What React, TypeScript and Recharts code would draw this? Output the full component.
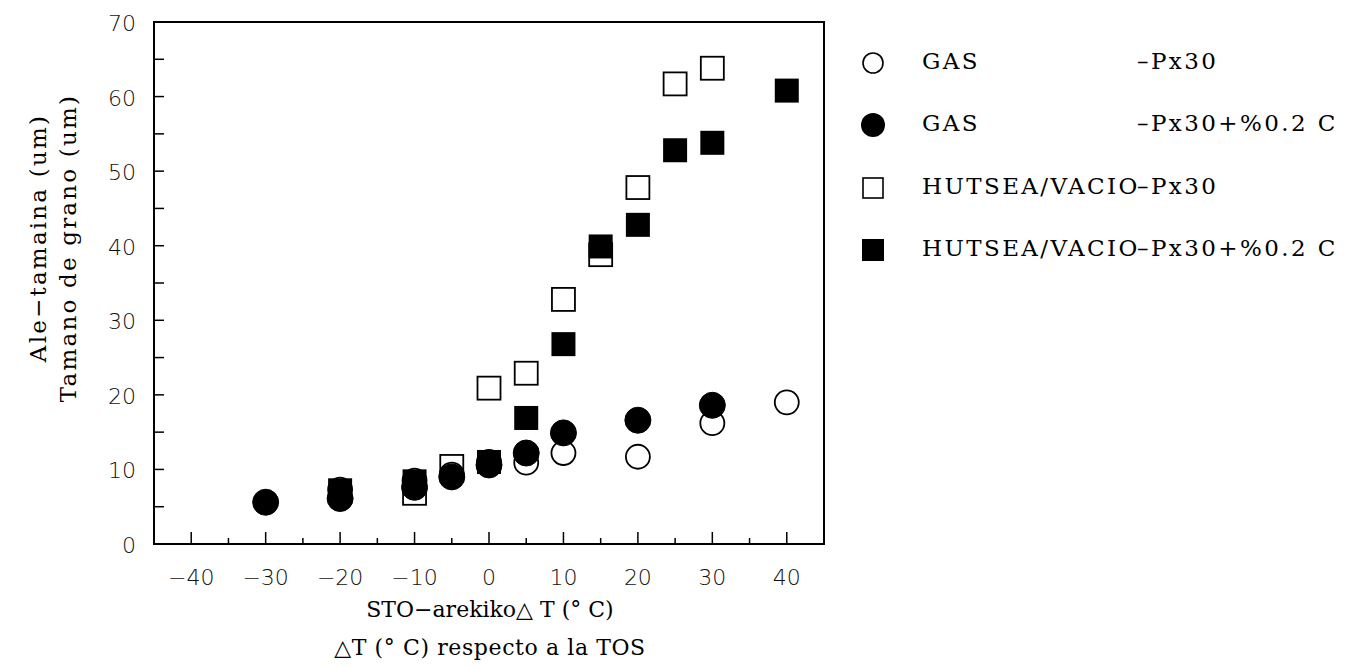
import React from 'react';
import { ScatterChart, Scatter, XAxis, YAxis, ReferenceArea } from 'recharts';

// GAS -Px30 (open circles)
const gasPxX = [-20, -10, -5, 0, 5, 10, 20, 30, 40];
const gasPxY = [7.3, 8.5, 9.3, 11.0, 10.9, 12.2, 11.7, 16.2, 19.0];
// GAS -Px30+%0.2 C (filled circles)
const gasPxCX = [-30, -20, -10, -5, 0, 5, 10, 20, 30];
const gasPxCY = [5.6, 6.1, 7.6, 9.0, 10.6, 12.2, 14.9, 16.6, 18.6];
// HUTSEA/VACIO -Px30 (open squares)
const vacPxX = [-10, -5, 0, 5, 10, 15, 20, 25, 30];
const vacPxY = [6.8, 10.4, 20.9, 22.9, 32.8, 38.8, 47.8, 61.7, 63.8];
// HUTSEA/VACIO -Px30+%0.2 C (filled squares)
const vacPxCX = [-20, -10, 0, 5, 10, 15, 20, 25, 30, 40];
const vacPxCY = [7.2, 8.4, 11.0, 16.9, 26.8, 39.9, 42.8, 52.8, 53.8, 60.8];

const xTicks = [-40, -35, -30, -25, -20, -15, -10, -5, 0, 5, 10, 15, 20, 25, 30, 35, 40];
const yTicks = [0, 5, 10, 15, 20, 25, 30, 35, 40, 45, 50, 55, 60, 65, 70];

const legendRows = [
  { shape: 'openCircle', name: 'GAS', suffix: '\u2013Px30' },
  { shape: 'filledCircle', name: 'GAS', suffix: '\u2013Px30+%0.2 C' },
  { shape: 'openSquare', name: 'HUTSEA/VACIO', suffix: '\u2013Px30' },
  { shape: 'filledSquare', name: 'HUTSEA/VACIO', suffix: '\u2013Px30+%0.2 C' },
];

const toPoints = (xs: number[], ys: number[]) => xs.map((x, i) => ({ x, y: ys[i] }));

const SERIF = '"DejaVu Serif", serif';
const SANS = '"DejaVu Sans", sans-serif';

const makeShape = (kind: string) => (props: any) => {
  const { cx, cy } = props;
  if (cx == null || cy == null) return <g />;
  if (kind === 'openCircle') return <circle cx={cx} cy={cy} r={12} fill="none" stroke="#000" strokeWidth={1.8} />;
  if (kind === 'filledCircle') return <circle cx={cx} cy={cy} r={13} fill="#000" stroke="#000" strokeWidth={1} />;
  if (kind === 'openSquare') return <rect x={cx - 11.5} y={cy - 11.5} width={23} height={23} fill="none" stroke="#000" strokeWidth={1.8} />;
  return <rect x={cx - 12} y={cy - 12} width={24} height={24} fill="#000" />;
};

const XTick = (props: any) => {
  const { x, y, payload } = props;
  const v = payload.value as number;
  const major = v % 10 === 0;
  const label = v < 0 ? '\u2212' + Math.abs(v) : String(v);
  return (
    <g>
      <line x1={x} x2={x} y1={y} y2={y - (major ? 12 : 6)} stroke="#000" strokeWidth={1.5} />
      {major && (
        <text x={x} y={y + 41} textAnchor="middle" fontFamily={SANS} fontWeight={200} fontSize={22} fill="#111">
          {label}
        </text>
      )}
    </g>
  );
};

const YTick = (props: any) => {
  const { x, y, payload } = props;
  const v = payload.value as number;
  const major = v % 10 === 0;
  return (
    <g>
      <line x1={x} x2={x + 10} y1={y} y2={y} stroke="#000" strokeWidth={1.5} />
      {major && (
        <text x={x - 18} y={y + 9} textAnchor="end" fontFamily={SANS} fontWeight={200} fontSize={22} fill="#111">
          {v}
        </text>
      )}
    </g>
  );
};

const LegendMarker = ({ kind }: { kind: string }) => (
  <svg width={30} height={30} style={{ display: 'block' }}>
    {kind === 'openCircle' && <circle cx={15} cy={15} r={10} fill="none" stroke="#000" strokeWidth={1.6} />}
    {kind === 'filledCircle' && <circle cx={15} cy={15} r={12} fill="#000" />}
    {kind === 'openSquare' && <rect x={5} y={5} width={20} height={20} fill="none" stroke="#000" strokeWidth={1.6} />}
    {kind === 'filledSquare' && <rect x={4} y={4} width={22} height={22} fill="#000" />}
  </svg>
);

export default function App() {
  return (
    <div style={{ position: 'absolute', left: 0, top: 0, width: 1345, height: 667, background: '#fff' }}>
      <ScatterChart width={1345} height={667} margin={{ top: 22, right: 521, bottom: 0, left: 0 }}>
        <XAxis
          type="number"
          dataKey="x"
          domain={[-45, 45]}
          ticks={xTicks}
          interval={0}
          height={123}
          tickSize={0}
          tickMargin={0}
          tickLine={false}
          axisLine={{ stroke: '#000', strokeWidth: 2 }}
          tick={<XTick />}
          allowDataOverflow
        />
        <YAxis
          type="number"
          dataKey="y"
          domain={[0, 70]}
          ticks={yTicks}
          interval={0}
          width={154}
          tickSize={0}
          tickMargin={0}
          tickLine={false}
          axisLine={{ stroke: '#000', strokeWidth: 2 }}
          tick={<YTick />}
          allowDataOverflow
        />
        <ReferenceArea x1={-45} x2={45} y1={0} y2={70} fill="none" stroke="#000" strokeWidth={2} fillOpacity={0} ifOverflow="extendDomain" />
        <Scatter data={toPoints(gasPxX, gasPxY)} shape={makeShape('openCircle')} isAnimationActive={false} />
        <Scatter data={toPoints(vacPxX, vacPxY)} shape={makeShape('openSquare')} isAnimationActive={false} />
        <Scatter data={toPoints(vacPxCX, vacPxCY)} shape={makeShape('filledSquare')} isAnimationActive={false} />
        <Scatter data={toPoints(gasPxCX, gasPxCY)} shape={makeShape('filledCircle')} isAnimationActive={false} />
      </ScatterChart>

      {/* Y axis title */}
      <svg width={110} height={560} style={{ position: 'absolute', left: 0, top: 0 }}>
        <text transform="translate(46,238) rotate(-90)" textAnchor="middle" fontFamily={SERIF} fontSize={23} letterSpacing={2.2} fill="#000">
          Ale{'\u2212'}tamaina (um)
        </text>
        <text transform="translate(76,248) rotate(-90)" textAnchor="middle" fontFamily={SERIF} fontSize={23} letterSpacing={2.2} fill="#000">
          Tamano de grano (um)
        </text>
      </svg>

      {/* X axis title */}
      <svg width={500} height={90} style={{ position: 'absolute', left: 240, top: 585 }}>
        <text x={250} y={32} textAnchor="middle" fontFamily={SERIF} fontSize={22} fill="#000">
          STO{'\u2212'}arekiko{'\u25B3'} T ({'\u00B0'} C)
        </text>
        <text x={250} y={70} textAnchor="middle" fontFamily={SERIF} fontSize={22} letterSpacing={0.6} fill="#000">
          {'\u25B3'}T ({'\u00B0'} C) respecto a la TOS
        </text>
      </svg>

      {/* Legend */}
      <div style={{ position: 'absolute', left: 858, top: 48 }}>
        {legendRows.map((r, i) => (
          <div key={i} style={{ position: 'absolute', left: 0, top: i * 62.3, height: 30, width: 487, fontFamily: SERIF, fontSize: 23, letterSpacing: 2.4, color: '#000' }}>
            <div style={{ position: 'absolute', left: 0, top: 0 }}>
              <LegendMarker kind={r.shape} />
            </div>
            <span style={{ position: 'absolute', left: 64, top: 0, whiteSpace: 'nowrap' }}>{r.name}</span>
            <span style={{ position: 'absolute', left: 279, top: 0, whiteSpace: 'nowrap' }}>{r.suffix}</span>
          </div>
        ))}
      </div>
    </div>
  );
}
